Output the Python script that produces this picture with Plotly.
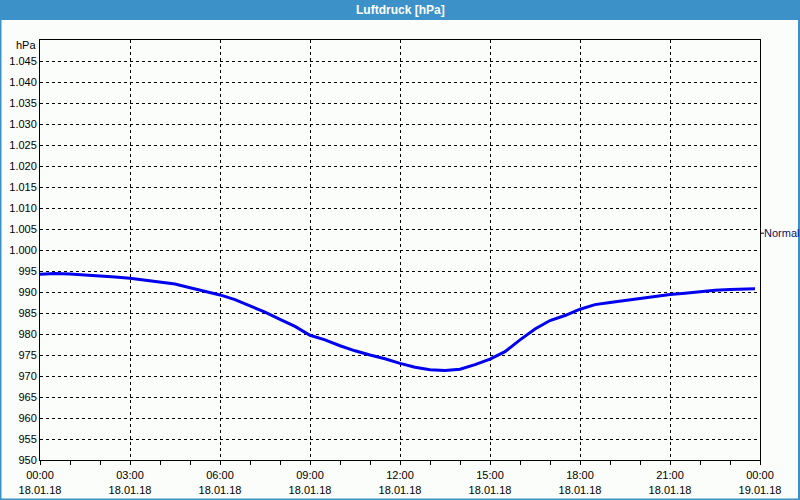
import plotly.graph_objects as go

# ---- data ----
times = [
    "2018-01-18 00:00", "2018-01-18 00:30", "2018-01-18 01:00", "2018-01-18 01:30",
    "2018-01-18 02:00", "2018-01-18 02:30", "2018-01-18 03:00", "2018-01-18 03:30",
    "2018-01-18 04:00", "2018-01-18 04:30", "2018-01-18 05:00", "2018-01-18 05:30",
    "2018-01-18 06:00", "2018-01-18 06:30", "2018-01-18 07:00", "2018-01-18 07:30",
    "2018-01-18 08:00", "2018-01-18 08:30", "2018-01-18 09:00", "2018-01-18 09:30",
    "2018-01-18 10:00", "2018-01-18 10:30", "2018-01-18 11:00", "2018-01-18 11:30",
    "2018-01-18 12:00", "2018-01-18 12:30", "2018-01-18 13:00", "2018-01-18 13:30",
    "2018-01-18 14:00", "2018-01-18 14:30", "2018-01-18 15:00", "2018-01-18 15:30",
    "2018-01-18 16:00", "2018-01-18 16:30", "2018-01-18 17:00", "2018-01-18 17:30",
    "2018-01-18 18:00", "2018-01-18 18:30", "2018-01-18 19:00", "2018-01-18 19:30",
    "2018-01-18 20:00", "2018-01-18 20:30", "2018-01-18 21:00", "2018-01-18 21:30",
    "2018-01-18 22:00", "2018-01-18 22:30", "2018-01-18 23:00", "2018-01-18 23:30",
    "2018-01-18 23:50",
]
pressure = [
    994.2, 994.4, 994.3, 994.1, 993.9, 993.6, 993.3, 992.8,
    992.4, 991.9, 991.0, 990.1, 989.3, 988.2, 986.7, 985.2,
    983.5, 981.8, 979.7, 978.6, 977.2, 976.0, 975.0, 974.1,
    973.0, 972.1, 971.5, 971.3, 971.6, 972.7, 974.0, 975.8,
    978.6, 981.2, 983.2, 984.4, 985.9, 987.0, 987.5, 988.0,
    988.5, 989.0, 989.4, 989.7, 990.1, 990.4, 990.6, 990.7,
    990.8,
]
normal_value = 1004
normal_label = "Normal"
y_ticks = list(range(950, 1051, 5))
y_ticktext = [("" if v == 1050 else f"{v:,}".replace(",", ".")) for v in y_ticks]
unit_label = "hPa"
title_text = "Luftdruck [hPa]"

W, H = 800, 500
ML, MR, MT, MB = 40, 40, 40, 40
PW, PH = W - ML - MR, H - MT - MB
BLUE = "#3c91c8"
FONT = "Liberation Sans"

fig = go.Figure()
fig.add_trace(go.Scatter(
    x=times, y=pressure, mode="lines",
    line=dict(color="#0000ee", width=3), showlegend=False, hoverinfo="skip",
))

fig.update_layout(
    width=W, height=H,
    margin=dict(l=ML, r=MR, t=MT, b=MB, autoexpand=False),
    paper_bgcolor="#fbfdfb", plot_bgcolor="#fbfdfb",
    font=dict(family=FONT, size=11, color="#000000"),
    showlegend=False,
)
fig.update_xaxes(
    type="date", automargin=False,
    range=["2018-01-18 00:00", "2018-01-19 00:00"],
    dtick=3 * 3600000, tick0="2018-01-18 00:00",
    tickformat="%H:%M<br>%d.%m.%y",
    showgrid=True, gridcolor="#000000", gridwidth=1, griddash="3px,3px",
    showline=True, linecolor="#000000", linewidth=1, mirror=True,
    ticks="outside", ticklen=4, tickcolor="#000000", ticklabelstandoff=1,
    minor=dict(dtick=3600000, ticks="outside", ticklen=4, tickcolor="#000000", showgrid=False),
    zeroline=False, fixedrange=True,
)
fig.update_yaxes(
    range=[950, 1050], automargin=False,
    tickvals=y_ticks, ticktext=y_ticktext,
    showgrid=True, gridcolor="#000000", gridwidth=1, griddash="3px,3px",
    showline=True, linecolor="#000000", linewidth=1, mirror=True,
    ticks="", zeroline=False, fixedrange=True,
)

# window frame & title bar
fig.add_shape(type="rect", xref="paper", yref="paper",
              x0=-ML / PW, x1=1 + MR / PW, y0=1 + (MT - 20) / PH, y1=1 + MT / PH,
              fillcolor=BLUE, line=dict(width=0), layer="below")
fig.add_shape(type="rect", xref="paper", yref="paper",
              x0=-ML / PW + 0.5 / PW, x1=1 + (MR - 1) / PW, y0=-MB / PH + 0.5 / PH, y1=1 + MT / PH,
              fillcolor="rgba(0,0,0,0)", line=dict(color=BLUE, width=2), layer="above")
fig.add_annotation(text=f"<b>{title_text}</b>", xref="paper", yref="paper",
                   x=0.5, y=1 + (MT - 10) / PH, showarrow=False,
                   font=dict(family=FONT, size=12, color="#ffffff"),
                   xanchor="center", yanchor="middle")
# unit label at top of y axis
fig.add_annotation(text=unit_label, xref="paper", yref="y", x=0, y=1050,
                   showarrow=False, xanchor="right", yanchor="middle",
                   xshift=-2, yshift=-5, font=dict(family=FONT, size=11, color="#000000"))
# normal marker
fig.add_shape(type="line", xref="paper", yref="y", x0=1, x1=1 + 4 / PW,
              y0=normal_value, y1=normal_value, line=dict(color="#000000", width=1))
fig.add_annotation(text=normal_label, xref="paper", yref="y", x=1, y=normal_value,
                   showarrow=False, xanchor="left", yanchor="middle", xshift=2,
                   font=dict(family=FONT, size=11, color="#10105a"))

fig.write_html("out.html")
